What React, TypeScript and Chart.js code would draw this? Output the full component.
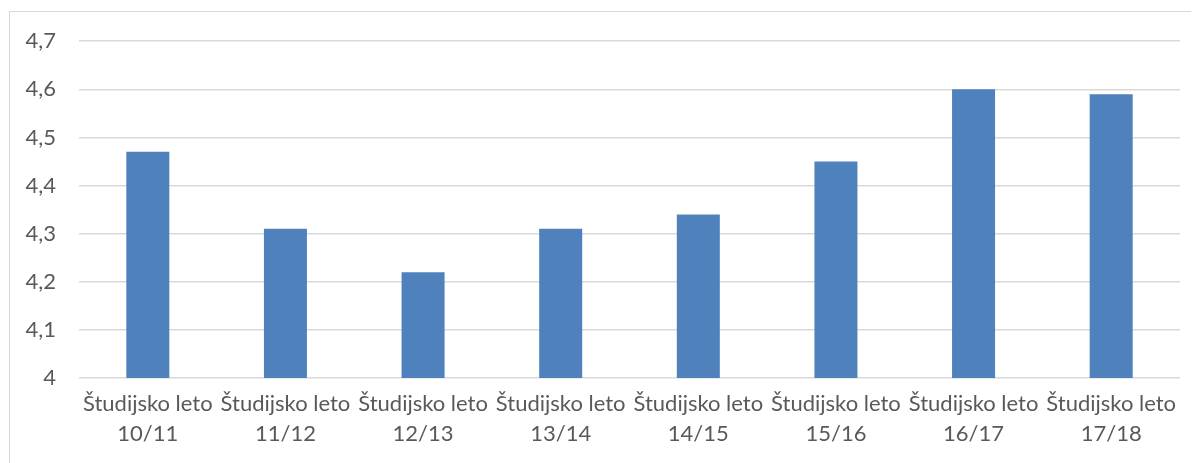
import React, { useEffect, useRef } from "react";
import { Chart, registerables } from "chart.js";

Chart.register(...registerables);

const labelPrefix = "Študijsko leto";
const years = ["10/11", "11/12", "12/13", "13/14", "14/15", "15/16", "16/17", "17/18"];
const values = [4.47, 4.31, 4.22, 4.31, 4.34, 4.45, 4.6, 4.59];
const yMin = 4;
const yMax = 4.7;
const yStep = 0.1;

const FONT = "Lato, 'Liberation Sans', sans-serif";

export default function App() {
  const ref = useRef<HTMLCanvasElement | null>(null);

  useEffect(() => {
    if (!ref.current) return;
    const chart = new Chart(ref.current, {
      type: "bar",
      data: {
        labels: years.map((y) => [labelPrefix, y]),
        datasets: [
          {
            data: values,
            backgroundColor: "#4f81bd",
            borderWidth: 0,
            categoryPercentage: 1,
            barPercentage: 0.3125,
          },
        ],
      },
      options: {
        animation: false,
        responsive: false,
        maintainAspectRatio: false,
        layout: { padding: { top: 28, right: 19, left: 0, bottom: 0 } },
        plugins: { legend: { display: false }, tooltip: { enabled: false } },
        scales: {
          x: {
            grid: { display: false, drawTicks: false },
            border: { display: false },
            ticks: {
              color: "#595959",
              font: { family: FONT, size: 22, lineHeight: 1.35 },
              padding: 11,
              maxRotation: 0,
              autoSkip: false,
            },
            afterFit: (s: any) => {
              s.height = 85;
            },
          },
          y: {
            min: yMin,
            max: yMax,
            grid: { color: "#d9d9d9", lineWidth: 1.5, drawTicks: false },
            border: { display: false },
            ticks: {
              stepSize: yStep,
              color: "#595959",
              font: { family: FONT, size: 22 },
              padding: 23,
              callback: (v: any) => Number(Number(v).toFixed(1)).toString().replace(".", ","),
            },
            afterFit: (s: any) => {
              s.width = 69;
            },
          },
        },
      },
    });
    return () => chart.destroy();
  }, []);

  return (
    <div
      style={{
        position: "relative",
        marginLeft: 1,
        marginTop: 3,
        width: 1240,
        height: 480,
        border: "1px solid #d9d9d9",
        boxSizing: "border-box",
        background: "#fff",
      }}
    >
      <canvas
        ref={ref}
        width={1189}
        height={458}
        style={{ display: "block", position: "absolute", left: 0, top: -7, width: 1189, height: 458 }}
      />
    </div>
  );
}
